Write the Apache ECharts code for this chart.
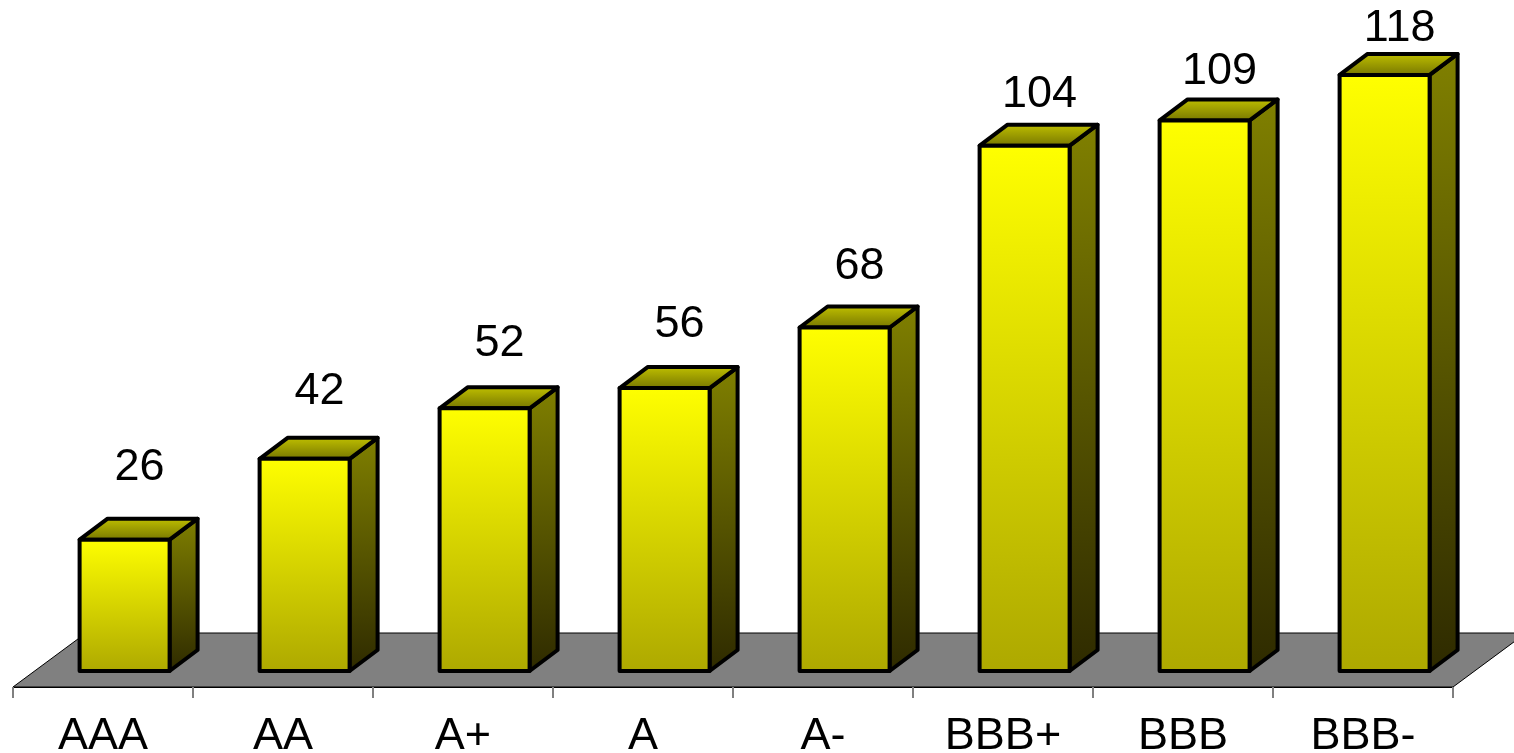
<!DOCTYPE html>
<html>
<head>
<meta charset="utf-8">
<script src="https://cdn.jsdelivr.net/npm/echarts@6/dist/echarts.min.js"></script>
<style>
  html, body { margin: 0; padding: 0; background: #ffffff; }
  #chart { width: 1514px; height: 753px; }
</style>
</head>
<body>
<div id="chart"></div>
<script>
// Rating grades and their values
const categories = ['AAA', 'AA', 'A+', 'A', 'A-', 'BBB+', 'BBB', 'BBB-'];
const values = [26, 42, 52, 56, 68, 104, 109, 118];

// Pseudo-3D geometry (pixels)
const FLOOR_DEPTH = [73, -54];   // floor back edge offset
const BAR_SHIFT = [21.6, -16];   // bar front face set back onto the floor
const BAR_DEPTH = [28, -21];     // bar thickness
const FONT = 'Liberation Sans, Arial, sans-serif';
const FONT_SIZE = 45;

const chart = echarts.init(document.getElementById('chart'));

function renderFloor(params, api) {
  const band = api.size([1, 0])[0];
  const first = api.coord([0, 0]);
  const last = api.coord([categories.length - 1, 0]);
  const x0 = first[0] - band / 2;
  const x1 = last[0] + band / 2;
  const y0 = first[1];
  return {
    type: 'polygon',
    shape: {
      points: [
        [x0, y0], [x1, y0],
        [x1 + FLOOR_DEPTH[0], y0 + FLOOR_DEPTH[1]],
        [x0 + FLOOR_DEPTH[0], y0 + FLOOR_DEPTH[1]]
      ]
    },
    style: { fill: '#808080', stroke: '#000000', lineWidth: 1 }
  };
}

function renderBar(params, api) {
  const idx = api.value(0);
  const val = api.value(1);
  const band = api.size([1, 0])[0];
  const base = api.coord([idx, 0]);
  const top = api.coord([idx, val]);
  const w = band * 0.5;
  const xl = base[0] - w / 2 + BAR_SHIFT[0];
  const xr = xl + w;
  const yb = base[1] + BAR_SHIFT[1];
  const yt = top[1] + BAR_SHIFT[1];
  const dx = BAR_DEPTH[0], dy = BAR_DEPTH[1];
  const edge = { stroke: '#000000', lineWidth: 4, lineJoin: 'round' };

  // value label sits above the bar, slightly compressed toward the top
  const labelY = yb - 0.946 * (yb - yt) - 79;
  const labelX = (xl + xr) / 2 + 15;

  return {
    type: 'group',
    children: [
      {
        type: 'polygon',
        shape: { points: [[xr, yb], [xr + dx, yb + dy], [xr + dx, yt + dy], [xr, yt]] },
        style: Object.assign({
          fill: new echarts.graphic.LinearGradient(0, 0, 0, 1, [
            { offset: 0, color: '#808000' },
            { offset: 1, color: '#2e2a00' }
          ])
        }, edge)
      },
      {
        type: 'polygon',
        shape: { points: [[xl, yt], [xr, yt], [xr + dx, yt + dy], [xl + dx, yt + dy]] },
        style: Object.assign({
          fill: new echarts.graphic.LinearGradient(0, 0, 0, 1, [
            { offset: 0, color: '#c4c400' },
            { offset: 1, color: '#727200' }
          ])
        }, edge)
      },
      {
        type: 'rect',
        shape: { x: xl, y: yt, width: w, height: yb - yt },
        style: Object.assign({
          fill: new echarts.graphic.LinearGradient(0, 0, 0, 1, [
            { offset: 0, color: '#ffff00' },
            { offset: 1, color: '#ada800' }
          ])
        }, edge)
      },
      {
        type: 'text',
        x: labelX,
        y: labelY,
        style: {
          text: String(val),
          fill: '#000000',
          font: FONT_SIZE + 'px ' + FONT,
          align: 'center',
          verticalAlign: 'middle'
        }
      }
    ]
  };
}

chart.setOption({
  animation: false,
  backgroundColor: '#ffffff',
  grid: { left: 13, right: 61, top: 0, bottom: 66, outerBoundsMode: 'none', containLabel: false },
  xAxis: {
    type: 'category',
    data: categories,
    boundaryGap: true,
    axisLine: { show: true, lineStyle: { color: '#000000', width: 1 } },
    axisTick: { show: true, length: 11, lineStyle: { color: '#808080', width: 2 } },
    axisLabel: {
      interval: 0,
      margin: 27,
      fontSize: FONT_SIZE,
      fontFamily: FONT,
      color: '#000000'
    },
    splitLine: { show: false },
    z: 5
  },
  yAxis: {
    type: 'value',
    min: 0,
    max: 136,
    show: false,
    splitLine: { show: false }
  },
  series: [
    {
      type: 'custom',
      z: 1,
      renderItem: renderFloor,
      data: [[0, 0]],
      encode: { x: 0, y: 1 },
      clip: false,
      silent: true
    },
    {
      type: 'custom',
      z: 2,
      renderItem: renderBar,
      data: values.map((v, i) => [i, v]),
      encode: { x: 0, y: 1 },
      clip: false
    }
  ]
});
</script>
</body>
</html>
